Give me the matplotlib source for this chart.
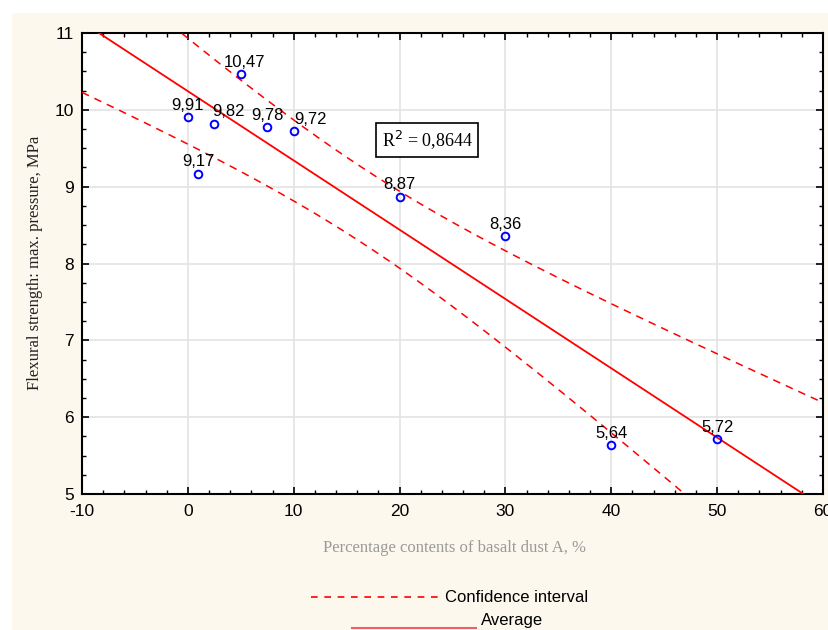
import numpy as np
import matplotlib
matplotlib.use("Agg")
import matplotlib.pyplot as plt
from matplotlib.lines import Line2D
from matplotlib.patches import Rectangle
from matplotlib.ticker import MultipleLocator

plt.rcParams["axes.unicode_minus"] = False

# Data
basalt_pct = [0, 1, 2.5, 5, 7.5, 10, 20, 30, 40, 50]
strength = [9.91, 9.17, 9.82, 10.47, 9.78, 9.72, 8.87, 8.36, 5.64, 5.72]
point_labels = ["9,91", "9,17", "9,82", "10,47", "9,78", "9,72", "8,87", "8,36", "5,64", "5,72"]
label_dx = [0, 0, 10, 3, 0, 12, 0, 0, 0, 0]  # label offsets in points
r2_text = "R$^2$ = 0,8644"
t_crit = 2.306  # t(0.975, df=8)

W, H = 829, 630
fig = plt.figure(figsize=(W / 100, H / 100), dpi=100, facecolor="white")
fig.patches.append(Rectangle((12 / W, 0), 1 - 12 / W, (H - 13) / H, transform=fig.transFigure,
                             facecolor="#fdf8ed", edgecolor="none", zorder=-10))

ax = fig.add_axes([82 / W, 1 - 494 / H, (823 - 82) / W, (494 - 33) / H])
ax.set_facecolor("white")

x = np.array(basalt_pct, dtype=float)
y = np.array(strength, dtype=float)
n = len(x)
slope, intercept = np.polyfit(x, y, 1)
resid = y - (slope * x + intercept)
s = np.sqrt(np.sum(resid ** 2) / (n - 2))
sxx = np.sum((x - x.mean()) ** 2)
xx = np.linspace(-10, 60, 400)
yy = slope * xx + intercept
half = t_crit * s * np.sqrt(1 / n + (xx - x.mean()) ** 2 / sxx)

ax.plot(xx, yy, color="red", lw=1.3, zorder=3)
ax.plot(xx, yy + half, color="red", lw=1.1, ls=(0, (5, 4)), zorder=3)
ax.plot(xx, yy - half, color="red", lw=1.1, ls=(0, (5, 4)), zorder=3)

ax.plot(x, y, ls="none", marker="o", ms=5.5, mfc="none", mec="blue", mew=1.4, zorder=4)
for xi, yi, lab, dx in zip(x, y, point_labels, label_dx):
    ax.annotate(lab, (xi, yi), xytext=(dx, 3), textcoords="offset points",
                ha="center", va="bottom", fontsize=12, family="Liberation Sans", zorder=5)

ax.text(22.6, 9.61, r2_text, ha="center", va="center", fontsize=13, family="Liberation Serif",
        bbox=dict(boxstyle="square,pad=0.3", fc="white", ec="black", lw=1.2), zorder=6)

ax.set_xlim(-10, 60)
ax.set_ylim(5, 11)
ax.xaxis.set_major_locator(MultipleLocator(10))
ax.xaxis.set_minor_locator(MultipleLocator(2))
ax.yaxis.set_major_locator(MultipleLocator(1))
ax.yaxis.set_minor_locator(MultipleLocator(0.25))
ax.tick_params(which="both", direction="in", top=True, right=True, labelsize=12.5)
ax.tick_params(which="major", length=5, width=1.2)
ax.tick_params(which="minor", length=3, width=1.0)
for lab in ax.get_xticklabels() + ax.get_yticklabels():
    lab.set_family("Liberation Sans")
ax.tick_params(axis="x", pad=7)
ax.tick_params(axis="y", pad=6)
ax.grid(True, which="major", color="#e3e3e3", lw=1.2, zorder=0)
ax.set_axisbelow(True)
for sp in ax.spines.values():
    sp.set_linewidth(1.5)
    sp.set_color("black")

fig.text(455 / W, 1 - 548 / H, "Percentage contents of basalt dust A, %", ha="center", va="center",
         fontsize=12, family="Liberation Serif", color="#9a9a9a")
fig.text(35 / W, 1 - 263 / H, "Flexural strength: max. pressure, MPa", ha="center", va="center",
         rotation=90, fontsize=12, family="Liberation Serif", color="#222222")

# Legend
fig.lines.append(Line2D([311 / W, 440 / W], [1 - 597 / H] * 2, transform=fig.transFigure,
                        color="red", lw=1.2, ls=(0, (4, 4))))
fig.text(445 / W, 1 - 597 / H, "Confidence interval", ha="left", va="center", fontsize=12,
         family="Liberation Sans")
fig.lines.append(Line2D([352 / W, 476 / W], [1 - 628 / H] * 2, transform=fig.transFigure,
                        color="#f06060", lw=1.5))
fig.text(481 / W, 1 - 620 / H, "Average", ha="left", va="center", fontsize=12,
         family="Liberation Sans")

fig.savefig("out.png", dpi=100, facecolor=fig.get_facecolor())
